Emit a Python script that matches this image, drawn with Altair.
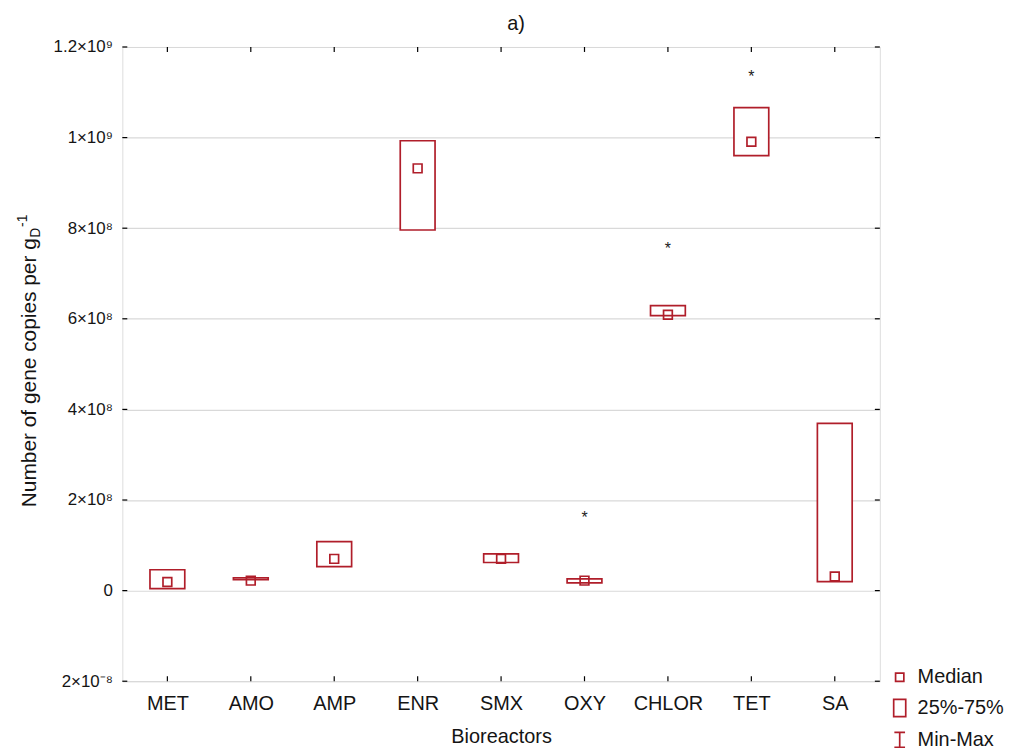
import json
import altair as alt
import pandas as pd

# ---------------- data ----------------
categories = ["MET", "AMO", "AMP", "ENR", "SMX", "OXY", "CHLOR", "TET", "SA"]
q1 = [4.5e6, 2.4e7, 5.3e7, 7.96e8, 6.2e7, 1.7e7, 6.07e8, 9.6e8, 2.0e7]
q3 = [4.6e7, 2.8e7, 1.08e8, 9.93e8, 8.1e7, 2.6e7, 6.29e8, 1.066e9, 3.69e8]
medians = [1.9e7, 2.2e7, 7.0e7, 9.32e8, 7.0e7, 2.2e7, 6.09e8, 9.91e8, 3.1e7]
outlier_cats = ["OXY", "CHLOR", "TET"]
outlier_vals = [1.69e8, 7.63e8, 1.143e9]
y_ticks = [-2e8, 0, 2e8, 4e8, 6e8, 8e8, 1e9, 1.2e9]
y_tick_labels = ["2×10⁻⁸", "0", "2×10⁸", "4×10⁸", "6×10⁸", "8×10⁸", "1×10⁹", "1.2×10⁹"]
legend_items = ["Median", "25%-75%", "Min-Max"]

W, H = 762, 638
RED = "#B01E2A"
FONT = "Liberation Sans"
TXT = "#141414"

box_df = pd.DataFrame({"cat": categories, "q1": q1, "q3": q3,
                       "median": medians, "kind": ["Median"] * len(categories)})
out_df = pd.DataFrame({"cat": outlier_cats, "val": outlier_vals, "star": ["*"] * 3})
tick_df = pd.DataFrame({"v": y_ticks})
cat_df = pd.DataFrame({"cat": categories})

x_scale = alt.Scale(type="point", domain=categories, padding=0.54)
y_scale = alt.Scale(domain=[-2e8, 1.2e9], nice=False, zero=False)

label_expr = (json.dumps(y_tick_labels, ensure_ascii=False)
              + "[indexof(" + json.dumps(y_ticks) + ", datum.value)]")

x_axis = alt.Axis(title="Bioreactors", titleFontSize=20, titleFontWeight="normal",
                  titleColor=TXT, labelFontSize=20, labelColor=TXT, labelAngle=0,
                  ticks=False, domain=False, grid=False, labelPadding=12,
                  titlePadding=14, titleFont=FONT, labelFont=FONT)
y_axis = alt.Axis(title=None, values=y_ticks, labelExpr=label_expr, grid=True,
                  gridColor="#d9d9d9", gridWidth=1.2, ticks=False, domain=False,
                  labelFontSize=17, labelColor=TXT, labelPadding=10, labelFont=FONT)

X = alt.X("cat:N", scale=x_scale, sort=categories, axis=x_axis)

boxes = alt.Chart(box_df).mark_bar(size=35, fill="white", stroke=RED,
                                   strokeWidth=1.7).encode(
    x=X,
    y=alt.Y("q1:Q", scale=y_scale, axis=y_axis),
    y2="q3:Q",
)

sq_path = "M-0.48,-0.48H0.48V0.48H-0.48Z"
rect_path = "M-0.7,-1H0.7V1H-0.7Z"
ibeam_path = "M-0.62,-0.86H0.62M0,-0.86V0.86M-0.62,0.86H0.62"

med = alt.Chart(box_df).mark_point(filled=False, strokeWidth=1.7, color=RED,
                                   opacity=1, size=336).encode(
    x=X,
    y=alt.Y("median:Q", scale=y_scale, axis=y_axis),
    shape=alt.Shape("kind:N",
                    scale=alt.Scale(domain=legend_items,
                                    range=[sq_path, rect_path, ibeam_path]),
                    legend=alt.Legend(title=None, orient="none", legendX=772,
                                      legendY=624, symbolStrokeColor=RED,
                                      symbolFillColor="transparent",
                                      symbolSize=300, symbolStrokeWidth=1.7,
                                      labelFontSize=20, labelColor=TXT,
                                      labelFont=FONT, rowPadding=8,
                                      labelOffset=8, padding=0)),
)

stars = alt.Chart(out_df).mark_text(fontSize=16, color="#222222", dy=4,
                                    font=FONT).encode(
    x=X,
    y=alt.Y("val:Q", scale=y_scale, axis=y_axis),
    text="star:N",
)

ytl = alt.Chart(tick_df).mark_rule(color="black", strokeWidth=1.2).encode(
    y=alt.Y("v:Q", scale=y_scale, axis=y_axis), x=alt.value(0), x2=alt.value(5))
ytr = alt.Chart(tick_df).mark_rule(color="black", strokeWidth=1.2).encode(
    y=alt.Y("v:Q", scale=y_scale, axis=y_axis), x=alt.value(W - 5), x2=alt.value(W))
xtb = alt.Chart(cat_df).mark_rule(color="black", strokeWidth=1.2).encode(
    x=X, y=alt.value(H - 5), y2=alt.value(H))
xtt = alt.Chart(cat_df).mark_rule(color="black", strokeWidth=1.2).encode(
    x=X, y=alt.value(0), y2=alt.value(5))

title_df = pd.DataFrame({"t": ["a)"]})
title = alt.Chart(title_df).mark_text(fontSize=20, color=TXT, font=FONT,
                                      baseline="middle").encode(
    x=alt.value(396), y=alt.value(-23), text="t:N")

yt_main = pd.DataFrame({"t": ["Number of gene copies per g"]})
yt_sub = pd.DataFrame({"t": ["D"]})
yt_sup = pd.DataFrame({"t": ["-1"]})
ytitle1 = alt.Chart(yt_main).mark_text(angle=270, align="left", baseline="alphabetic",
                                       fontSize=21, color=TXT, font=FONT).encode(
    x=alt.value(-87), y=alt.value(463), text="t:N")
ytitle2 = alt.Chart(yt_sub).mark_text(angle=270, align="left", baseline="alphabetic",
                                      fontSize=14, color=TXT, font=FONT).encode(
    x=alt.value(-83), y=alt.value(192), text="t:N")
ytitle3 = alt.Chart(yt_sup).mark_text(angle=270, align="left", baseline="alphabetic",
                                      fontSize=14, color=TXT, font=FONT).encode(
    x=alt.value(-96), y=alt.value(181), text="t:N")

chart = alt.layer(boxes, med, stars, ytl, ytr, xtb, xtt, title,
                  ytitle1, ytitle2, ytitle3).properties(
    width=W, height=H,
    autosize=alt.AutoSizeParams(type="none"),
    padding={"left": 115, "top": 37, "right": 140, "bottom": 70},
).configure_view(stroke="black", strokeWidth=1.5).configure(background="white")

chart.save("out.html", embed_options={"renderer": "svg", "actions": False})
